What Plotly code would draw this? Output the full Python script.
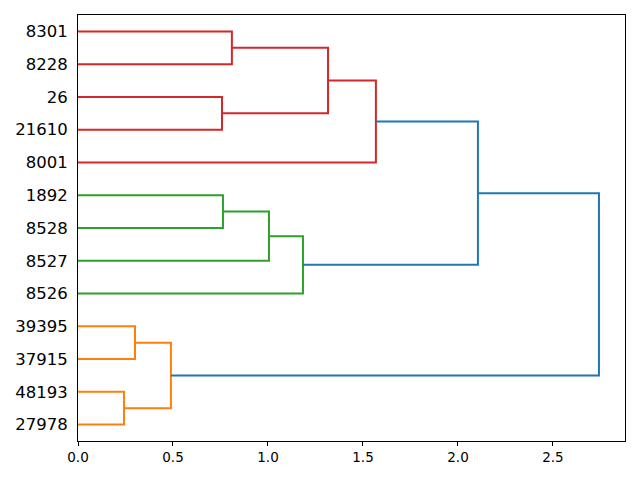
import plotly.graph_objects as go

# Leaf labels, in display order from bottom (scipy position 5) to top
leaf_labels = ["27978", "48193", "37915", "39395", "8526", "8527", "8528",
               "1892", "8001", "21610", "26", "8228", "8301"]

# Merges: (child_a, child_b, height, colour). Children are leaf labels or
# names of earlier clusters.
merge_names = ["A", "B", "C", "D", "E", "F", "G", "H", "I", "J", "K", "L"]
merge_left = ["27978", "37915", "A", "8528", "D", "E", "8228", "21610", "H", "I", "J", "C"]
merge_right = ["48193", "39395", "B", "1892", "8527", "8526", "8301", "26", "G", "8001", "F", "K"]
merge_heights = [0.242, 0.300, 0.489, 0.763, 1.005, 1.184, 0.810, 0.758,
                 1.316, 1.568, 2.105, 2.742]
merge_colors = ["#ff7f0e", "#ff7f0e", "#ff7f0e", "#2ca02c", "#2ca02c", "#2ca02c",
                "#d62728", "#d62728", "#d62728", "#d62728", "#1f77b4", "#1f77b4"]

pos = {lab: 5 + 10 * i for i, lab in enumerate(leaf_labels)}
height = {lab: 0.0 for lab in leaf_labels}

fig = go.Figure()
for name, a, b, h, c in zip(merge_names, merge_left, merge_right, merge_heights, merge_colors):
    ya, yb = pos[a], pos[b]
    fig.add_trace(go.Scatter(
        x=[height[a], h, h, height[b]],
        y=[ya, ya, yb, yb],
        mode="lines",
        line=dict(color=c, width=2),
        hoverinfo="skip",
        showlegend=False,
    ))
    pos[name] = (ya + yb) / 2
    height[name] = h

xmax = max(merge_heights) * 1.05

# The page body has a default 8px margin; size the figure to compensate.
fig.update_layout(
    width=632, height=472,
    margin=dict(l=70, r=15, t=7, b=39),
    plot_bgcolor="white", paper_bgcolor="white",
    font=dict(family="DejaVu Sans", color="black"),
    xaxis=dict(
        range=[0, xmax],
        tickvals=[0, 0.5, 1.0, 1.5, 2.0, 2.5],
        ticktext=["0.0", "0.5", "1.0", "1.5", "2.0", "2.5"],
        ticks="outside", ticklen=4, tickwidth=1, tickcolor="black",
        showgrid=False, zeroline=False, automargin=False,
        showline=True, linecolor="black", linewidth=1, mirror=True,
        tickfont=dict(size=13.5),
    ),
    yaxis=dict(
        range=[0, 10 * len(leaf_labels)],
        tickvals=[5 + 10 * i for i in range(len(leaf_labels))],
        ticktext=leaf_labels,
        ticks="", showgrid=False, zeroline=False, automargin=False,
        showline=True, linecolor="black", linewidth=1, mirror=True,
        tickfont=dict(size=16.5), ticklabelstandoff=6,
    ),
)

fig.write_html("out.html")
